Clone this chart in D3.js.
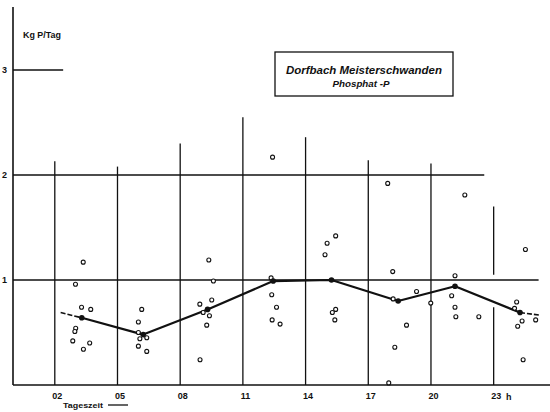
<!DOCTYPE html>
<html>
<head>
<meta charset="utf-8">
<script src="https://cdn.jsdelivr.net/npm/d3@7"></script>
<style>
  html, body { margin: 0; padding: 0; background: #fff; }
  svg { display: block; }
  text { font-family: "Liberation Sans", Arial, sans-serif; fill: #111; }
</style>
</head>
<body>
<svg id="chart" width="550" height="412"></svg>
<script>
// Sampling hours shown on the time axis
const tickHours = [2, 5, 8, 11, 14, 17, 20, 23];
const valueTicks = [1, 2, 3];

// Upper end (kg P/Tag) of each hour grid line
const gridTops = [2.13, 2.08, 2.30, 2.55, 2.36, 2.14, 2.11, 1.70];

// Horizontal reference levels and the hour where each stops
const levelValues = [3, 2, 1];
const levelEnds = [2.4, 22.55, 25.15];

// Single measurements: time of day (h) and load (kg P/Tag)
const sampleHours = [
  3.36, 2.99, 3.28, 3.72, 3.00, 2.96, 2.86, 3.67, 3.37,
  6.16, 6.00, 6.00, 6.07, 6.40, 6.00, 6.40,
  9.37, 9.59, 9.51, 8.94, 9.10, 9.40, 9.27, 8.95,
  12.42, 12.35, 12.38, 12.61, 12.40, 12.78,
  15.44, 15.03, 14.93, 15.44, 15.28, 15.40,
  17.93, 18.17, 19.31, 18.83, 18.27, 18.19, 17.98,
  19.99, 21.62, 21.15, 20.99, 21.15, 21.19, 22.29,
  24.52, 24.10, 24.00, 24.36, 24.15, 25.01, 24.41
];
const sampleValues = [
  1.17, 0.96, 0.74, 0.72, 0.54, 0.51, 0.42, 0.40, 0.34,
  0.72, 0.60, 0.50, 0.44, 0.45, 0.37, 0.32,
  1.19, 0.99, 0.81, 0.77, 0.69, 0.66, 0.57, 0.24,
  2.17, 1.02, 0.86, 0.74, 0.62, 0.58,
  1.42, 1.35, 1.24, 0.72, 0.69, 0.62,
  1.92, 1.08, 0.89, 0.57, 0.36, 0.82, 0.02,
  0.78, 1.81, 1.04, 0.85, 0.74, 0.65, 0.65,
  1.29, 0.79, 0.73, 0.61, 0.56, 0.62, 0.24
];

// Mean load per sampling time
const meanHours = [3.29, 6.23, 9.31, 12.45, 15.24, 18.43, 21.15, 24.26];
const meanValues = [0.64, 0.48, 0.72, 0.99, 1.00, 0.80, 0.94, 0.69];

// Dashed lead-in and run-out of the mean curve
const leadIn = [[2.28, 0.69], [3.29, 0.64]];
const runOut = [[24.26, 0.69], [25.2, 0.665]];

const svg = d3.select("#chart");
const x = d3.scaleLinear().domain([0, 25.6]).range([13, 548]);
const y = d3.scaleLinear().domain([0, 3]).range([385, 70]);

// Hour grid lines (the last one is interrupted where the curve passes)
const grid = svg.append("g").attr("stroke", "#111").attr("stroke-width", 1.3);
tickHours.forEach((h, i) => {
  if (h === 23) {
    grid.append("line").attr("x1", x(h)).attr("x2", x(h)).attr("y1", y(gridTops[i])).attr("y2", y(1.05));
    grid.append("line").attr("x1", x(h)).attr("x2", x(h)).attr("y1", y(0.74)).attr("y2", y(0));
  } else {
    grid.append("line").attr("x1", x(h)).attr("x2", x(h)).attr("y1", y(gridTops[i])).attr("y2", y(0));
  }
});

// Horizontal reference levels
levelValues.forEach((v, i) => {
  grid.append("line")
    .attr("x1", x(0)).attr("x2", x(levelEnds[i]))
    .attr("y1", y(v)).attr("y2", y(v));
});

// Axes
const xAxis = d3.axisBottom(x)
  .tickValues(tickHours)
  .tickFormat(d3.format("02d"))
  .tickSize(0).tickSizeOuter(0).tickPadding(8);
const gx = svg.append("g").attr("transform", `translate(0,${y(0)})`).call(xAxis);
gx.select(".domain").attr("stroke", "#111").attr("stroke-width", 1.6)
  .attr("d", `M${x(0)},0H550`);
gx.selectAll("text").attr("font-size", 9).attr("font-weight", "bold")
  .attr("font-family", "'Liberation Sans', Arial, sans-serif").attr("fill", "#111")
  .attr("dx", 2);

const yAxis = d3.axisLeft(y).tickValues(valueTicks).tickFormat(d3.format("d"))
  .tickSize(0).tickPadding(6);
const gy = svg.append("g").attr("transform", `translate(${x(0)},0)`).call(yAxis);
gy.select(".domain").attr("stroke", "#111").attr("stroke-width", 1.6)
  .attr("d", `M0,7V${y(0)}`);
gy.selectAll("text").attr("font-size", 9).attr("font-weight", "bold")
  .attr("font-family", "'Liberation Sans', Arial, sans-serif").attr("fill", "#111");

// Axis titles
svg.append("text").attr("x", 23).attr("y", 38)
  .attr("font-size", 8.5).attr("font-weight", "bold")
  .attr("textLength", 38).attr("lengthAdjust", "spacingAndGlyphs")
  .text("Kg P/Tag");
svg.append("text").attr("x", 506).attr("y", y(0) + 14.5)
  .attr("font-size", 9).attr("font-weight", "bold").text("h");
svg.append("text").attr("x", 63).attr("y", 408)
  .attr("font-size", 8).attr("font-weight", "bold")
  .attr("textLength", 40).attr("lengthAdjust", "spacingAndGlyphs")
  .text("Tageszeit");
svg.append("line").attr("x1", 108).attr("x2", 128).attr("y1", 405).attr("y2", 405)
  .attr("stroke", "#111").attr("stroke-width", 1.3);

// Title box
svg.append("rect").attr("x", 275).attr("y", 52).attr("width", 178).attr("height", 44)
  .attr("fill", "#fff").attr("stroke", "#111").attr("stroke-width", 1.3);
svg.append("text").attr("x", 364).attr("y", 73.5).attr("text-anchor", "middle")
  .attr("font-size", 11.5).attr("font-weight", "bold").attr("font-style", "italic")
  .attr("textLength", 156).attr("lengthAdjust", "spacingAndGlyphs")
  .text("Dorfbach Meisterschwanden");
svg.append("text").attr("x", 361).attr("y", 87).attr("text-anchor", "middle")
  .attr("font-size", 9).attr("font-style", "italic").attr("font-weight", "bold")
  .attr("textLength", 57).attr("lengthAdjust", "spacingAndGlyphs")
  .text("Phosphat -P");

// Mean curve
const line = d3.line().x(d => x(d[0])).y(d => y(d[1]));
const meanPts = meanHours.map((h, i) => [h, meanValues[i]]);
svg.append("path").datum(meanPts).attr("d", line)
  .attr("fill", "none").attr("stroke", "#111").attr("stroke-width", 2.2)
  .attr("stroke-linejoin", "round");
[leadIn, runOut].forEach(seg => {
  svg.append("path").datum(seg).attr("d", line)
    .attr("fill", "none").attr("stroke", "#111").attr("stroke-width", 1.6)
    .attr("stroke-dasharray", "5,2");
});

// Single measurements
svg.append("g").selectAll("circle")
  .data(sampleHours.map((h, i) => [h, sampleValues[i]]))
  .join("circle")
  .attr("cx", d => x(d[0])).attr("cy", d => y(d[1])).attr("r", 2)
  .attr("fill", "#fff").attr("stroke", "#111").attr("stroke-width", 1.1);

// Mean markers
svg.append("g").selectAll("circle")
  .data(meanPts)
  .join("circle")
  .attr("cx", d => x(d[0])).attr("cy", d => y(d[1])).attr("r", 2.8)
  .attr("fill", "#111");
</script>
</body>
</html>
